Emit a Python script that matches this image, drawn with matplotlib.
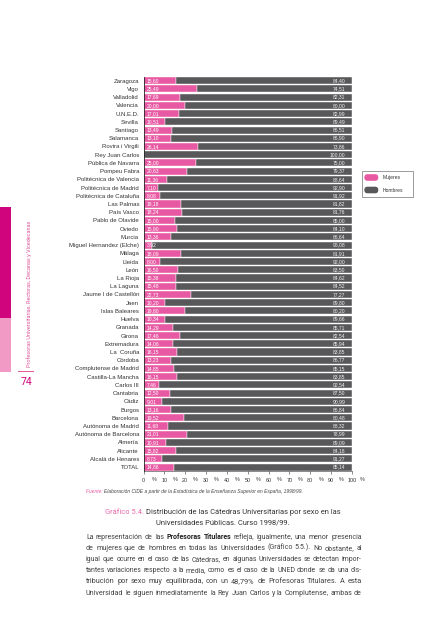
import matplotlib
matplotlib.use('Agg')
import matplotlib.pyplot as plt
from matplotlib import font_manager
from matplotlib.patches import Rectangle, FancyBboxPatch
import numpy as np

# ---------------- data ----------------
universities = ["Zaragoza", "Vigo", "Valladolid", "Valencia", "U.N.E.D.", "Sevilla",
                "Santiago", "Salamanca", "Rovira i Virgili", "Rey Juan Carlos",
                "Pública de Navarra", "Pompeu Fabra", "Politécnica de Valencia",
                "Politécnica de Madrid", "Politécnica de Cataluña", "Las Palmas",
                "País Vasco", "Pablo de Olavide", "Oviedo", "Murcia",
                "Miguel Hernandez (Elche)", "Málaga", "Lleida", "León", "La Rioja",
                "La Laguna", "Jaume I de Castellón", "Jaen", "Islas Baleares",
                "Huelva", "Granada", "Girona", "Extremadura", "La  Coruña",
                "Córdoba", "Complutense de Madrid", "Castilla-La Mancha",
                "Carlos III", "Cantabria", "Cádiz", "Burgos", "Barcelona",
                "Autónoma de Madrid", "Autónoma de Barcelona", "Almería",
                "Alicante", "Alcalá de Henares", "TOTAL"]
mujeres = [15.60, 25.49, 17.69, 20.00, 17.01, 10.51, 13.49, 13.10, 26.14, 0.00,
           25.00, 20.63, 11.36, 7.10, 8.08, 18.18, 18.24, 15.00, 15.90, 13.36,
           3.92, 18.09, 8.00, 16.50, 15.38, 15.48, 22.73, 10.20, 19.80, 10.34,
           14.29, 17.46, 14.06, 16.15, 13.23, 14.85, 16.15, 7.46, 12.50, 9.01,
           13.16, 19.52, 11.68, 21.01, 10.91, 15.82, 8.73, 14.86]
hombres = [84.40, 74.51, 82.31, 80.00, 82.99, 89.49, 86.51, 86.90, 73.86, 100.00,
           75.00, 79.37, 88.64, 92.90, 91.92, 81.82, 81.76, 85.00, 84.10, 86.64,
           96.08, 81.91, 92.00, 83.50, 84.62, 84.52, 77.27, 89.80, 80.20, 89.66,
           85.71, 82.54, 85.94, 83.85, 86.77, 85.15, 83.85, 92.54, 87.50, 90.99,
           86.84, 80.48, 88.32, 78.99, 89.09, 84.18, 91.27, 85.14]
xticks = [0, 10, 20, 30, 40, 50, 60, 70, 80, 90, 100]
series_names = ["Mujeres", "Hombres"]

source_text = ("Elaboración CIDE a partir de la Estadística de la Enseñanza "
               "Superior en España, 1998/99.")
caption_1 = "Distribución de las Cátedras Universitarias por sexo en las"
caption_2 = "Universidades Públicas. Curso 1998/99."
paragraph = [
    [("La representación de las ", 0), ("Profesoras Titulares", 1),
     (" refleja, igualmente, una menor presencia", 0)],
    [("de mujeres que de hombres en todas las Universidades (Gráfico 5.5.). No obstante, al", 0)],
    [("igual que ocurre en el caso de las Cátedras, en algunas Universidades se detectan impor-", 0)],
    [("tantes variaciones respecto a la media, como es el caso de la UNED donde se da una dis-", 0)],
    [("tribución por sexo muy equilibrada, con un 48,79% de Profesoras Titulares. A esta", 0)],
    [("Universidad le siguen inmediatamente la Rey Juan Carlos y la Complutense, ambas de", 0)],
]
margin_title = "Profesoras Universitarias, Rectoras, Decanas y Vicedecanas"
page_number = "74"

# ---------------- style ----------------
PINK = "#E859A3"
GRAY = "#58585A"
MAGENTA = "#D0047C"
LIGHTPINK = "#F19AC6"
TXT = "#333333"

names = {f.name for f in font_manager.fontManager.ttflist}
SANS = "Liberation Sans" if "Liberation Sans" in names else "DejaVu Sans"
BODY = "Roboto" if "Roboto" in names else "DejaVu Sans"
plt.rcParams['font.family'] = [SANS, 'DejaVu Sans']

W, H = 426, 640
fig = plt.figure(figsize=(W / 100, H / 100), dpi=100)
fig.patch.set_facecolor("white")

ax_left, ax_right, ax_top, ax_bot = 143.5, 352.0, 76.6, 471.2
ax = fig.add_axes([ax_left / W, 1 - ax_bot / H, (ax_right - ax_left) / W,
                   (ax_bot - ax_top) / H])
n = len(universities)
y = np.arange(n)
ax.barh(y, mujeres, height=0.86, color=PINK, edgecolor="white", linewidth=0.3)
ax.barh(y, hombres, left=mujeres, height=0.86, color=GRAY, edgecolor="white",
        linewidth=0.3)
ax.set_xlim(0, 100)
ax.set_ylim(n - 0.5, -0.5)
ax.set_yticks(y, universities)
ax.tick_params(axis='y', length=0, pad=3.2, labelsize=4.3, labelcolor=TXT)
ax.set_xticks(xticks, [str(t) for t in xticks])
ax.tick_params(axis='x', length=2, width=0.4, pad=2.6, labelsize=3.9,
               labelcolor=TXT, color=TXT)
for s in ["top", "right"]:
    ax.spines[s].set_visible(False)
ax.spines["left"].set_linewidth(0.6)
ax.spines["left"].set_color("#222222")
ax.spines["bottom"].set_linewidth(0.4)
ax.spines["bottom"].set_color(TXT)
pct_y = -(479.3 - ax_bot) / (ax_bot - ax_top)
for t in xticks:
    ax.text(t + 5, pct_y, "%", transform=ax.get_xaxis_transform(), ha="center",
            va="center", fontsize=3.9, color=TXT, clip_on=False)

def fmt(v):
    return f"{v:.2f}".replace(".", ",")

for i in range(n):
    if mujeres[i] > 0:
        ax.text(1.5, i, fmt(mujeres[i]), ha="left", va="center", fontsize=3.6,
                color="white")
    ax.text(96.8, i, fmt(hombres[i]), ha="right", va="center", fontsize=3.6,
            color="#F0F0F0")

# ---------------- overlay (page elements) ----------------
lax = fig.add_axes([0, 0, 1, 1])
lax.set_xlim(0, W)
lax.set_ylim(H, 0)
lax.axis("off")
lax.patch.set_alpha(0)

fig.canvas.draw()
R = fig.canvas.get_renderer()

def measure(s, fs, **kw):
    t = lax.text(0, 0, s, fontsize=fs, **kw)
    w = t.get_window_extent(R).width
    t.remove()
    return w

def base_off(fs):
    # half cap height in pixels (baseline below visual centre)
    return 0.36 * fs * 100 / 72

cf = dict(family=[BODY, "DejaVu Sans"])

# legend
lax.add_patch(Rectangle((361.7, 171), 51, 25.7, facecolor="white",
                        edgecolor="#9A9A9A", linewidth=0.7))
for k, (nm, col) in enumerate(zip(series_names, [PINK, GRAY])):
    yc = 177.5 + k * 12.5
    lax.add_patch(FancyBboxPatch((364.3, yc - 3.3), 14, 6.6,
                                 boxstyle="round,pad=0,rounding_size=3.3",
                                 facecolor=col, edgecolor="none"))
    lax.text(382.3, yc, nm, fontsize=3.6, color=TXT, va="center", ha="left")

# left margin decorations
lax.add_patch(Rectangle((0, 207), 11, 111, facecolor=MAGENTA, edgecolor="none"))
lax.add_patch(Rectangle((0, 318), 11, 54, facecolor=LIGHTPINK, edgecolor="none"))
mt = lax.text(29, 293.5, margin_title, rotation=90, ha="center", va="center",
              fontsize=5, color="#E0559B", **cf)
bb = mt.get_window_extent(R)
mt.set_fontsize(5 * 147 / bb.height)
lax.plot([18, 33], [371, 371], color="#E0559B", linewidth=0.7)
lax.text(26, 382, page_number, ha="center", va="center", fontsize=7.5,
         color=MAGENTA, **cf)

# source line
fs_src = 3.5
w1 = measure("Fuente: ", fs_src, style="italic")
w2 = measure(source_text, fs_src, style="italic")
fs_src = fs_src * 219.5 / (w1 + w2)
w1 = measure("Fuente: ", fs_src, style="italic")
yb = 491.7 + base_off(fs_src)
lax.text(85.7, yb, "Fuente: ", fontsize=fs_src, style="italic", color=PINK,
         va="baseline", ha="left")
lax.text(85.7 + w1, yb, source_text, fontsize=fs_src, style="italic",
         color="#444444", va="baseline", ha="left")

# caption
head = "Gráfico 5.4. "
fs_c = 5.0
tot = measure(head, fs_c, **cf) + measure(caption_1, fs_c, **cf)
fs_c = fs_c * 234 / tot
wh = measure(head, fs_c, **cf)
wc = measure(caption_1, fs_c, **cf)
x0 = 223 - (wh + wc) / 2
yb = 511.5 + base_off(fs_c)
lax.text(x0, yb, head, fontsize=fs_c, color="#E46AAA", va="baseline", ha="left", **cf)
lax.text(x0 + wh, yb, caption_1, fontsize=fs_c, color="#333333", va="baseline",
         ha="left", **cf)
lax.text(223, 521.5 + base_off(fs_c), caption_2, fontsize=fs_c, color="#333333",
         va="baseline", ha="center", **cf)

# justified paragraph
PX0, PX1 = 86, 361.7
line_y = [536, 547.2, 558.4, 569.6, 580.8, 592]
words_lines = []
for runs in paragraph:
    ws = []
    for txt, bold in runs:
        for w in txt.split():
            ws.append((w, bold))
    words_lines.append(ws)

def natural(ws, fs):
    sp = measure("a a", fs, **cf) - measure("aa", fs, **cf)
    tot = sum(measure(w, fs, weight="bold" if b else "normal", **cf) for w, b in ws)
    return tot + sp * (len(ws) - 1)

base = 5.0
fits = [base * (PX1 - PX0) * 0.99 / natural(ws, base) for ws in words_lines]
med = float(np.median(fits))
for ws, yl, fit in zip(words_lines, line_y, fits):
    fs_l = min(fit, med * 1.04)
    widths = [measure(w, fs_l, weight="bold" if b else "normal", **cf) for w, b in ws]
    gap = (PX1 - PX0 - sum(widths)) / (len(ws) - 1)
    x = PX0
    yb = yl + base_off(fs_l)
    for (w, b), wd in zip(ws, widths):
        lax.text(x, yb, w, fontsize=fs_l, weight="bold" if b else "normal",
                 color="#222222" if b else "#444444", va="baseline", ha="left", **cf)
        x += wd + gap

fig.savefig("out.png", dpi=100, facecolor="white")
